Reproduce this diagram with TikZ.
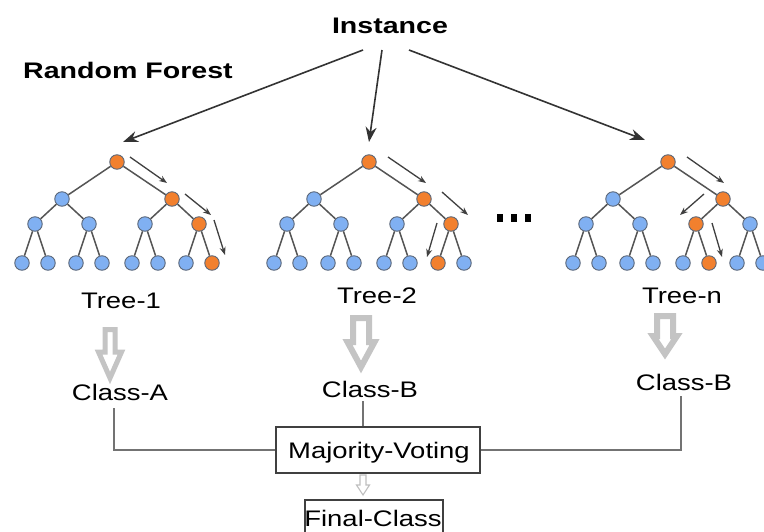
\documentclass[tikz,border=0pt]{standalone}
\usepackage{fontspec}
\setmainfont{Liberation Sans}[FakeStretch=1.22, BoldFeatures={FakeStretch=1.27}]
\usetikzlibrary{arrows.meta}
\definecolor{nblue}{HTML}{80B0F2}
\definecolor{norange}{HTML}{F2802E}
\definecolor{nline}{HTML}{5A6678}
\definecolor{edgec}{HTML}{555555}
\definecolor{barrow}{HTML}{C4C4C4}
\newcommand\drawtree[6]{%
  \foreach \i/\dx/\yy in {1/0/162, 2/-55/199, 3/55/199, 4/-82/224, 5/-28/224, 6/28/224, 7/82/224,
      8/-95/263, 9/-69/263, 10/-41/263, 11/-15/263, 12/15/263, 13/41/263, 14/69/263, 15/95/263}{
    \pgfmathtruncatemacro\isor{(\i==#3)||(\i==#4)||(\i==#5)||(\i==#6)}
    \ifnum\isor=1
      \node[tnode, fill=norange] (#1-\i) at (#2+\dx,\yy) {};
    \else
      \node[tnode, fill=nblue] (#1-\i) at (#2+\dx,\yy) {};
    \fi
  }
  \foreach \c in {2,...,15}{
    \pgfmathtruncatemacro\p{\c/2}
    \draw[tedge] (#1-\p) -- (#1-\c);
  }
}
\begin{document}
\begin{tikzpicture}[x=1pt,y=-1pt,
  tnode/.style={circle, draw=nline, line width=0.9pt, minimum size=14.5pt, inner sep=0pt},
  tedge/.style={draw=edgec, line width=1.5pt},
  lbl/.style={font=\fontsize{22.5}{26}\selectfont, inner sep=0pt, anchor=base},
  blbl/.style={font=\fontsize{22.5}{26}\selectfont\bfseries, inner sep=0pt, anchor=base},
  iarrow/.style={draw=black!80, line width=1.6pt, -{Stealth[length=15pt,width=11pt]}},
  sarrow/.style={draw=black!75, line width=1.3pt, -{Stealth[length=8pt,width=6pt]}},
  boxst/.style={draw=black!75, line width=1.6pt, fill=white, inner sep=0pt},
  conn/.style={draw=black!55, line width=1.5pt},
  bigarrow/.style={draw=barrow, fill=white, line join=miter},
]
\useasboundingbox (0,0) rectangle (764,531);
\clip (0,0) rectangle (764,531);
\fill[white] (0,0) rectangle (764,531);

% titles
\node[blbl] (inst) at (390,33) {Instance};
\node[blbl, anchor=base west] (rf) at (23,78) {Random Forest};

% instance arrows
\coordinate (s1) at (363,50);
\coordinate (s2) at (382,50);
\coordinate (s3) at (409,50);
\coordinate (e1) at (123,142);
\coordinate (e2) at (369,142);
\coordinate (e3) at (645,140);
\draw[iarrow] (s1) -- (e1);
\draw[iarrow] (s2) -- (e2);
\draw[iarrow] (s3) -- (e3);

% trees
\drawtree{ta}{117}{1}{3}{7}{15}
\drawtree{tb}{369}{1}{3}{7}{14}
\drawtree{tn}{668}{1}{3}{6}{13}

% path arrows
\coordinate (a1s) at (130,157); \coordinate (a1e) at (167,183);
\coordinate (a2s) at (185,194); \coordinate (a2e) at (211,215);
\coordinate (a3s) at (214,220); \coordinate (a3e) at (225,255);
\coordinate (b1s) at (388,157); \coordinate (b1e) at (426,183);
\coordinate (b2s) at (442,192); \coordinate (b2e) at (468,215);
\coordinate (b3s) at (437,223); \coordinate (b3e) at (427,257);
\coordinate (n1s) at (687,157); \coordinate (n1e) at (724,183);
\coordinate (n2s) at (704,194); \coordinate (n2e) at (680,215);
\coordinate (n3s) at (712,223); \coordinate (n3e) at (722,257);
\foreach \p in {a1,a2,a3,b1,b2,b3,n1,n2,n3}{\draw[sarrow] (\p s) -- (\p e);}

% dots
\foreach \x in {500,514,528}{\fill[black] (\x-2.8,214) rectangle (\x+2.8,222);}

% tree labels
\node[lbl] (l1) at (121,308) {Tree-1};
\node[lbl] (l2) at (377,303) {Tree-2};
\node[lbl] (ln) at (682,303) {Tree-n};

% block arrows
\draw[bigarrow, line width=5pt] (105,329.5) -- (115,329.5) -- (115,352) -- (121.5,352) -- (110,378) -- (98.5,352) -- (105,352) -- cycle;
\draw[bigarrow, line width=6pt] (353,318) -- (369,318) -- (369,342) -- (374.5,342) -- (361,367) -- (347.5,342) -- (353,342) -- cycle;
\draw[bigarrow, line width=6pt] (657,316) -- (673,316) -- (673,336) -- (677,336) -- (665,354) -- (653,336) -- (657,336) -- cycle;

% class labels
\node[lbl] (ca) at (120,400) {Class-A};
\node[lbl] (cb) at (370,397) {Class-B};
\node[lbl] (cn) at (684,390) {Class-B};

% majority voting
\node[boxst, minimum width=204pt, minimum height=46pt] (mv) at (378,450) {};
\node[lbl] (mvt) at (379,458) {Majority-Voting};

\coordinate (ca1) at (114,408);
\coordinate (cb1) at (363,401);
\coordinate (cn1) at (681,396);
\draw[conn] (ca1) |- (mv.west);
\draw[conn] (cn1) |- (mv.east);
\draw[conn] (cb1) -- (cb1 |- mv.north);

% small arrow
\draw[draw=black!25, fill=white, line width=1.1pt] (360,475) -- (366,475) -- (366,485) -- (369.5,485) -- (363,495) -- (356.5,485) -- (360,485) -- cycle;

% final class
\node[boxst, minimum width=138pt, minimum height=46pt, anchor=north] (fc) at (374,499) {};
\node[lbl] (fct) at (373,526) {Final-Class};
\end{tikzpicture}
\end{document}
